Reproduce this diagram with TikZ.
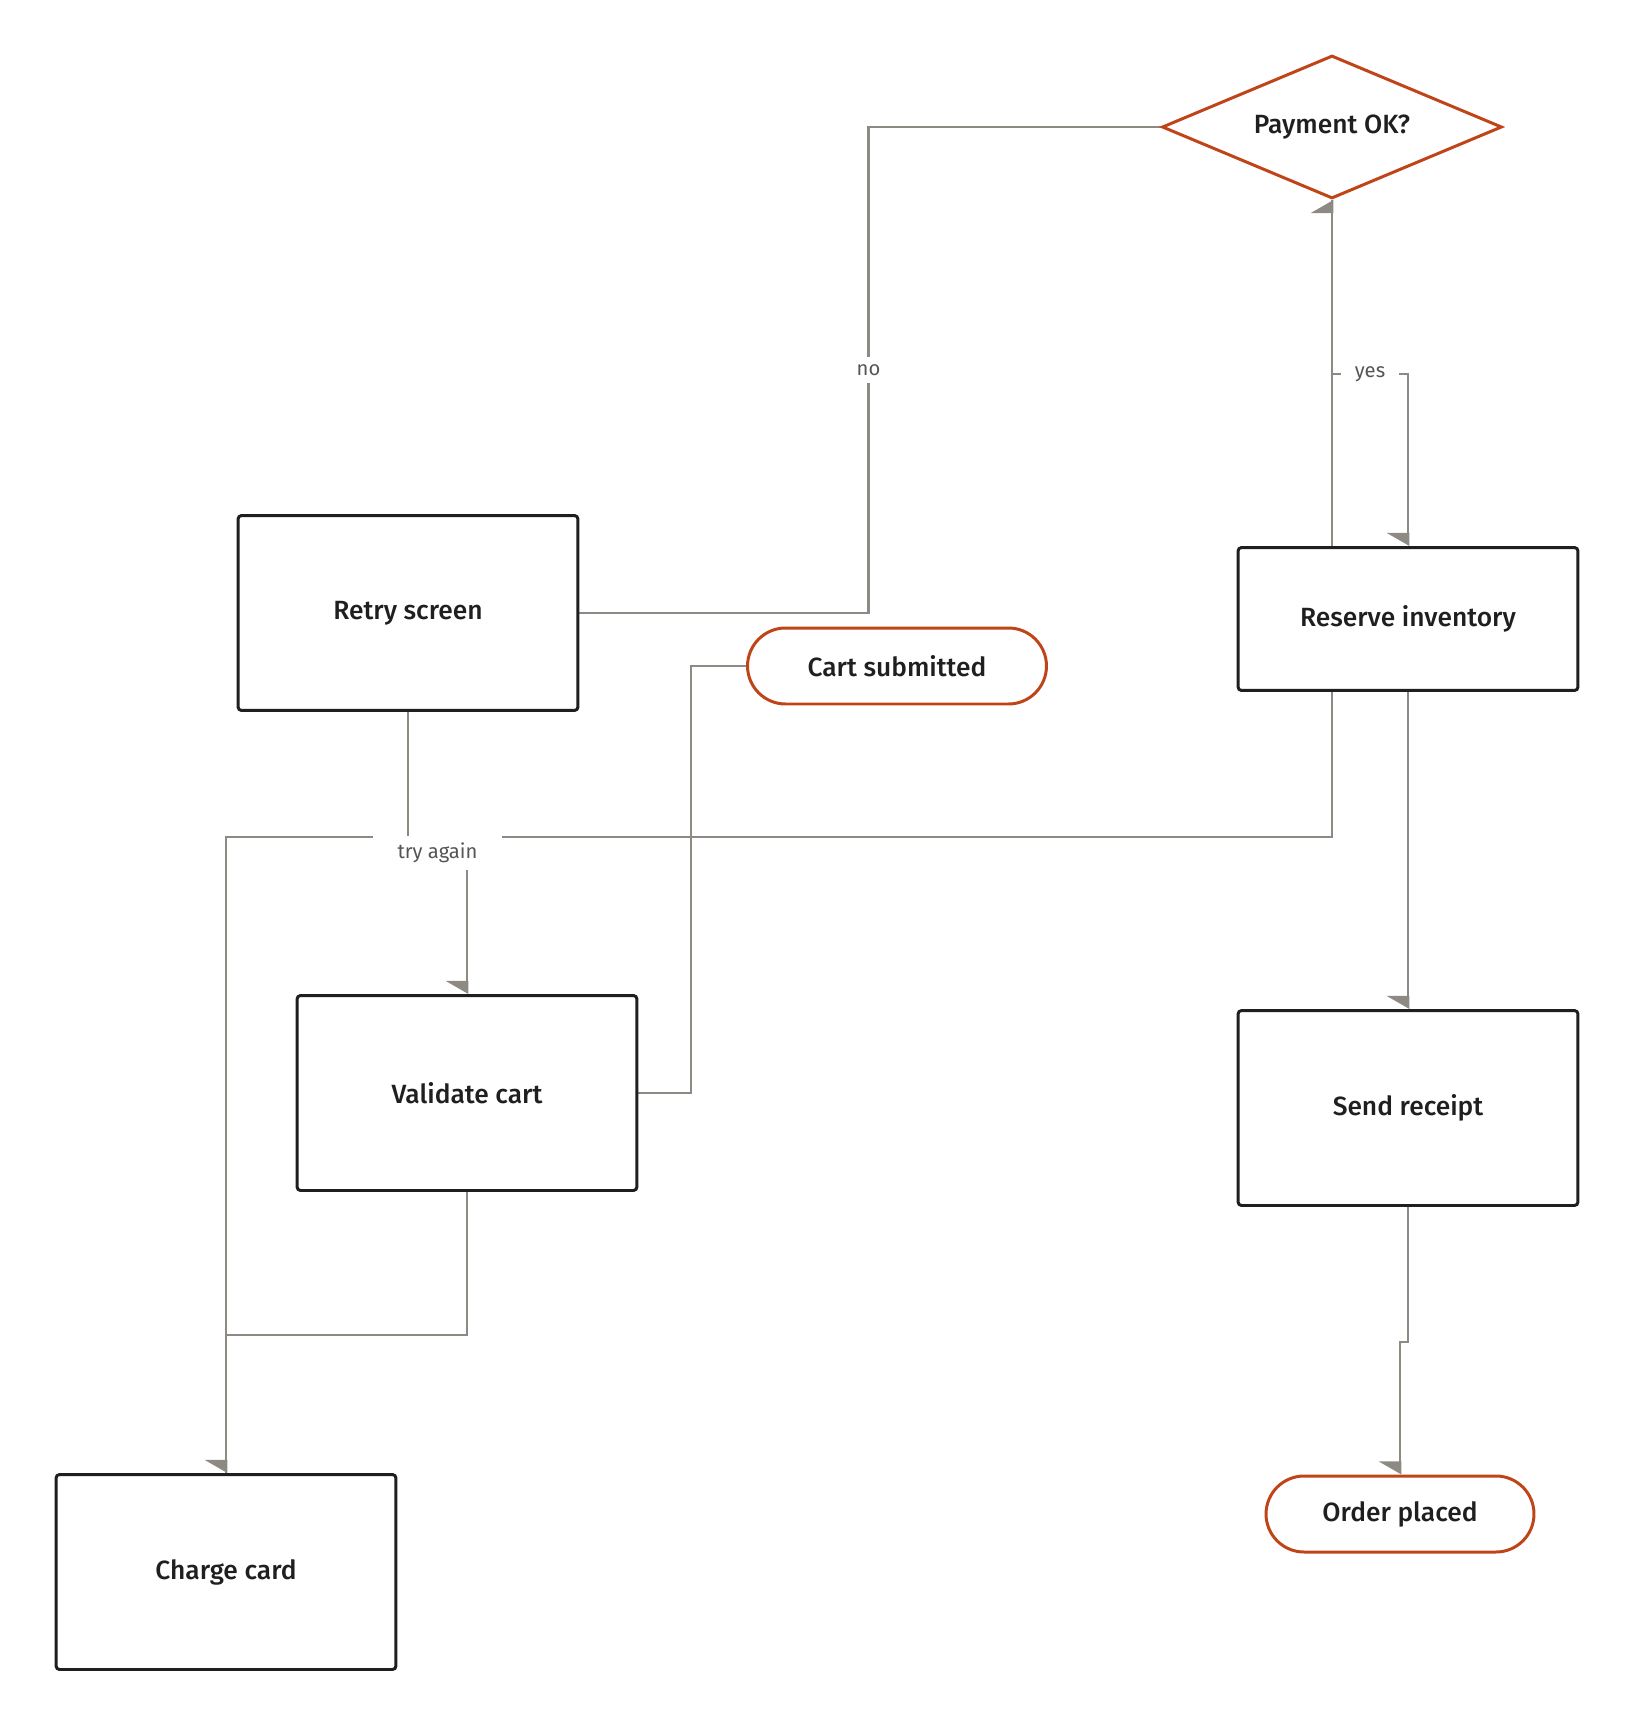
\documentclass[tikz,border=0pt]{standalone}
\usepackage{fontspec}
\setmainfont{Fira Sans}[BoldFont={Fira Sans Medium}]
\usetikzlibrary{shapes.geometric,arrows.meta,backgrounds}
\definecolor{rust}{HTML}{BF4519}
\definecolor{wire}{HTML}{8C8A82}
\definecolor{ink}{HTML}{1F1F1F}
\definecolor{note}{HTML}{555555}

\begin{document}
\begin{tikzpicture}[x=0.02cm,y=-0.02cm,
  every node/.style={font=\fontsize{15}{18}\selectfont\bfseries,text=ink},
  box/.style={rectangle,draw=ink,line width=1.7pt,rounded corners=2pt,fill=white,minimum width=6.8cm,minimum height=3.9cm},
  term/.style={rectangle,draw=rust,line width=1.7pt,rounded corners=0.76cm,fill=white,minimum height=1.52cm},
  test/.style={diamond,aspect=2.4,draw=rust,line width=1.7pt,fill=white,minimum width=6.8cm,minimum height=2.86cm,inner sep=0pt},
  flow/.style={draw=wire,line width=1.6pt},
  up/.style={flow,-{Triangle[harpoon,length=7pt,width=24pt]}},
  down/.style={flow,-{Triangle[harpoon,swap,length=7pt,width=24pt]}},
  tag/.style={fill=white,inner sep=4pt,font=\fontsize{11.5}{13}\selectfont,text=note}
]
\useasboundingbox (0,0) rectangle (1634,1726);

\node[test](pay) at (1332,127){Payment OK?};
\node[box](retry) at (408,613){Retry screen};
\node[term,minimum width=5.98cm](cart) at (897,666){Cart submitted};
\node[box,minimum height=2.86cm](reserve) at (1408,619){Reserve inventory};
\node[box](validate) at (467,1093){Validate cart};
\node[box](send) at (1408,1108){Send receipt};
\node[box](charge) at (226,1572){Charge card};
\node[term,minimum width=5.36cm](order) at (1400,1514){Order placed};

\begin{scope}[on background layer]
\draw[up] (charge.north) -- ++(0,-636) -| (pay.south);
\draw[flow] (pay.west) -- ++(-292,0) |- node[tag,pos=0.25]{no} (retry.east);
\draw[down] (pay.south) -- ++(0,174) -| node[tag,pos=0.25,inner xsep=8pt]{yes} (reserve.north);
\draw[down] (retry.south) -- ++(0,141) -| node[tag,pos=0.25,inner xsep=14pt]{try again} (validate.north);
\draw[flow] (cart.west) -- ++(-55,0) |- (validate.east);
\draw[down] (validate.south) -- ++(0,143) -| (charge.north);
\draw[down] (reserve.south) -- (send.north);
\draw[down] (send.south) -- ++(0,135) -| (order.north);
\end{scope}
\end{tikzpicture}
\end{document}
